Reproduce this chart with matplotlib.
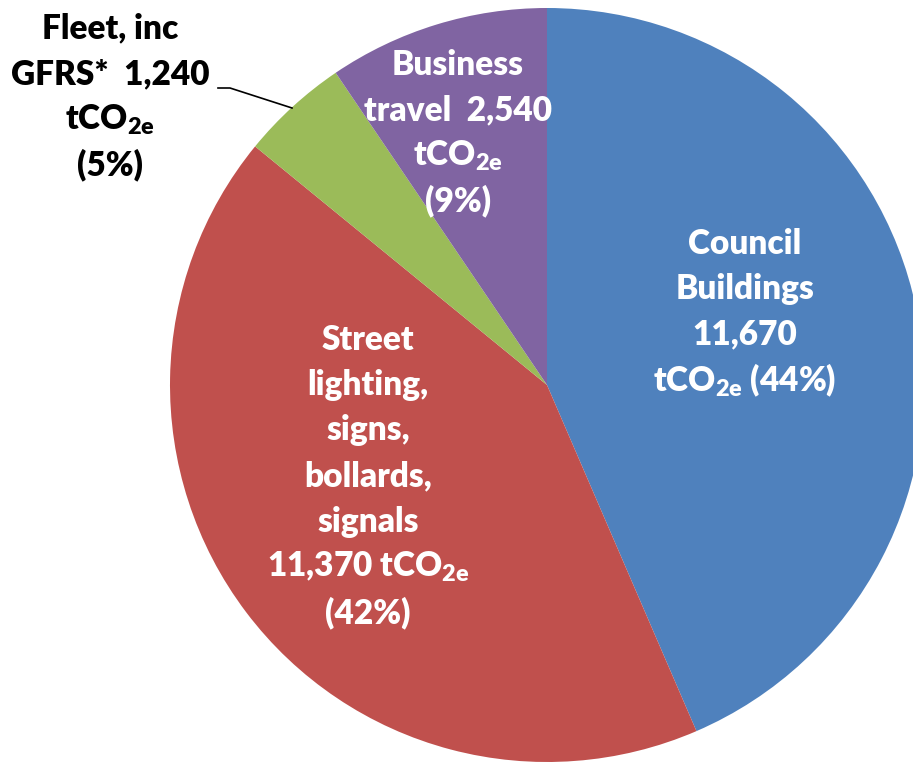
import matplotlib
matplotlib.use("Agg")
import matplotlib.pyplot as plt

categories = ["Council Buildings", "Street lighting, signs, bollards, signals",
              "Fleet, inc GFRS*", "Business travel"]
values = [11670, 11370, 1240, 2540]
percents = ["44%", "42%", "5%", "9%"]
colors = ["#4F81BD", "#C0504D", "#9BBB59", "#8064A2"]

label_lines = [
    ["Council", "Buildings", "11,670", r"tCO$_{\mathrm{2e}}$ (44%)"],
    ["Street", "lighting,", "signs,", "bollards,", "signals", r"11,370 tCO$_{\mathrm{2e}}$", "(42%)"],
    ["Fleet, inc", "GFRS*  1,240", r"tCO$_{\mathrm{2e}}$", "(5%)"],
    ["Business", "travel  2,540", r"tCO$_{\mathrm{2e}}$", "(9%)"],
]
label_colors = ["white", "white", "black", "white"]

plt.rcParams["font.family"] = ["Lato", "DejaVu Sans"]
plt.rcParams["font.weight"] = "heavy"
plt.rcParams["mathtext.fontset"] = "custom"
plt.rcParams["mathtext.rm"] = "Lato:heavy"
plt.rcParams["mathtext.bf"] = "Lato:heavy"
plt.rcParams["mathtext.it"] = "Lato:heavy"

W, H = 913, 764
fig = plt.figure(figsize=(W / 100, H / 100), dpi=100)
ax = fig.add_axes([0, 0, 1, 1])

cx, cy, r = 547, H - 385, 377
ax.pie(values, colors=colors, startangle=90, counterclock=False,
       center=(cx, cy), radius=r, frame=True,
       wedgeprops=dict(linewidth=0))
ax.set_xlim(0, W)
ax.set_ylim(0, H)
ax.set_aspect("equal")
ax.axis("off")

# label block centres (pixels from top-left)
centres = [(745, 312), (368, 476), (110, 97), (458, 133)]
step = 45.5
fs = 24
for lines, (x, y), col in zip(label_lines, centres, label_colors):
    n = len(lines)
    for i, t in enumerate(lines):
        yy = y + (i - (n - 1) / 2) * step
        ax.text(x, H - yy, t, ha="center", va="center", fontsize=fs,
                fontweight="heavy", color=col)

# leader line for the Fleet label
ax.plot([218, 230, 292], [H - 88, H - 88, H - 108], color="black", lw=1.2)

fig.savefig("out.png", dpi=100)
